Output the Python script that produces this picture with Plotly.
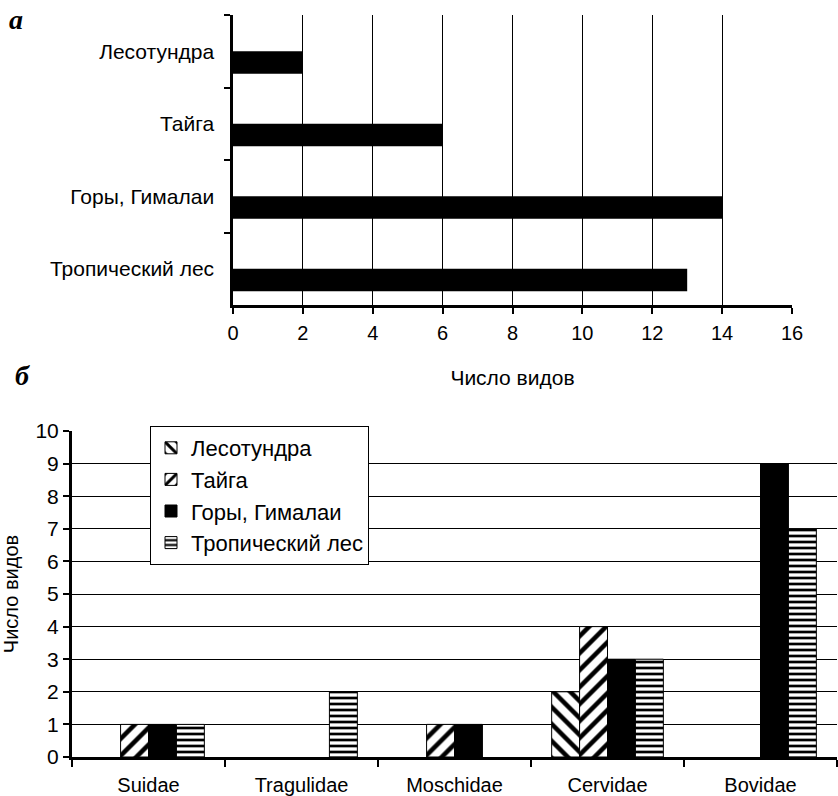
import plotly.graph_objects as go

W, H = 838, 796
FONT = "Liberation Sans"

# ---- data: top chart (а) ----
habitats = ["Лесотундра", "Тайга", "Горы, Гималаи", "Тропический лес"]
species_total = [2, 6, 14, 13]
x_ticks_top = [0, 2, 4, 6, 8, 10, 12, 14, 16]

# ---- data: bottom chart (б) ----
families = ["Suidae", "Tragulidae", "Moschidae", "Cervidae", "Bovidae"]
lesotundra = [0, 0, 0, 2, 0]
taiga = [1, 0, 1, 4, 0]
gory = [1, 0, 1, 3, 9]
tropic = [1, 2, 0, 3, 7]
y_ticks_bottom = list(range(0, 11))

series = [
    ("Лесотундра", lesotundra, "\\", 12, 0.38),
    ("Тайга", taiga, "/", 12, 0.38),
    ("Горы, Гималаи", gory, "", 0, 0),
    ("Тропический лес", tropic, "-", 6, 0.45),
]

def px_x(p):
    return p / W

def px_y(p):
    return 1 - p / H

fig = go.Figure()

fig.add_trace(go.Bar(
    x=species_total, y=habitats, orientation="h",
    marker=dict(color="black", line=dict(width=0)),
    width=0.31, offset=0.0,
    xaxis="x", yaxis="y", showlegend=False,
))

for i, (name, vals, shape, psize, sol) in enumerate(series):
    marker = dict(color="white", line=dict(color="black", width=1))
    if shape:
        marker["pattern"] = dict(shape=shape, fgcolor="black", bgcolor="white",
                                 size=psize, solidity=sol, fillmode="overlay", fgopacity=1)
    else:
        marker["color"] = "black"
    fig.add_trace(go.Bar(
        x=families, y=[v if v else None for v in vals], name=name, marker=marker,
        xaxis="x2", yaxis="y2", legendgroup=f"g{i}",
    ))

fig.update_layout(
    width=W, height=H,
    margin=dict(l=0, r=0, t=0, b=0),
    paper_bgcolor="white", plot_bgcolor="white",
    font=dict(family=FONT, size=20, color="black"),
    barmode="group", bargap=0.27, bargroupgap=0,
    xaxis=dict(
        domain=[px_x(233), px_x(792)], anchor="y",
        range=[0, 16], tickvals=x_ticks_top, showgrid=True, gridcolor="black", gridwidth=1,
        showline=True, linecolor="black", linewidth=3, zeroline=False,
        ticks="outside", ticklen=6, tickwidth=2, tickcolor="black",
        tickfont=dict(size=20), automargin=False, ticklabelstandoff=2,
        title=dict(text="Число видов", font=dict(size=21), standoff=28),
    ),
    yaxis=dict(
        domain=[px_y(305), px_y(15)], anchor="x",
        type="category", categoryorder="array", categoryarray=habitats,
        autorange="reversed", tickson="boundaries",
        showline=True, linecolor="black", linewidth=3, showgrid=False, zeroline=False,
        ticks="outside", ticklen=6, tickwidth=2, tickcolor="black",
        tickfont=dict(size=21), automargin=False, ticksuffix="  ",
    ),
    xaxis2=dict(
        domain=[px_x(72), px_x(837)], anchor="y2",
        type="category", tickson="boundaries",
        showline=True, linecolor="black", linewidth=3, showgrid=False, zeroline=False,
        ticks="outside", ticklen=7, tickwidth=2, tickcolor="black",
        tickfont=dict(size=20), automargin=False, ticklabelstandoff=8,
    ),
    yaxis2=dict(
        domain=[px_y(757), px_y(431)], anchor="x2",
        range=[0, 10], tickvals=y_ticks_bottom,
        showgrid=True, gridcolor="black", gridwidth=1,
        showline=True, linecolor="black", linewidth=3, zeroline=False,
        ticks="outside", ticklen=6, tickwidth=2, tickcolor="black",
        tickfont=dict(size=21), automargin=False,
        title=dict(text="Число видов", font=dict(size=20), standoff=12),
    ),
    legend=dict(
        x=px_x(150), y=px_y(426), xanchor="left", yanchor="top",
        bgcolor="white", bordercolor="black", borderwidth=1,
        font=dict(size=22), tracegroupgap=2, traceorder="normal",
        itemwidth=30,
    ),
    annotations=[
        dict(text="<b><i>а</i></b>", x=px_x(16), y=px_y(19), xref="paper", yref="paper",
             xanchor="center", yanchor="middle",
             showarrow=False, font=dict(family="Liberation Serif", size=28)),
        dict(text="<b><i>б</i></b>", x=px_x(22), y=px_y(375), xref="paper", yref="paper",
             xanchor="center", yanchor="middle",
             showarrow=False, font=dict(family="Liberation Serif", size=28)),
    ],
)

fig.write_html("out.html")
